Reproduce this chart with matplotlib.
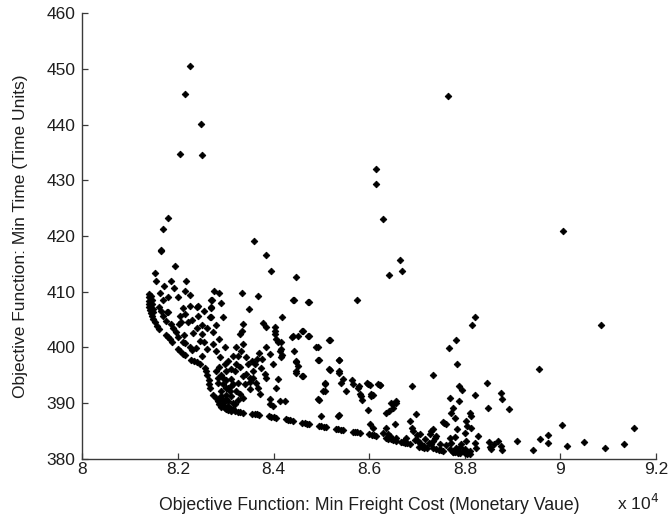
import matplotlib
matplotlib.use("Agg")
import matplotlib.pyplot as plt
from matplotlib.ticker import FuncFormatter

plt.rcParams['font.family'] = ['Liberation Sans', 'DejaVu Sans']

# Pareto front (lower-left boundary of the solution set)
front_cost = [
    # blob at the cheapest end
    81400, 81400, 81400, 81400, 81400, 81420, 81440, 81460, 81470, 81440, 81450, 81460, 81470, 81480,
    # curved upper part
    81510, 81560, 81610,
    81740, 81790, 81840, 81880,
    82000, 82050, 82100, 82150,
    82280, 82340, 82400, 82450,
    82560, 82590, 82610,
    82640, 82650, 82670,
    82740, 82790, 82840,
    82930, 82980, 83040, 83100,
    # flat lower part
    83200, 83250, 83300, 83350,
    83550, 83600, 83650, 83700,
    83900, 83950, 84000, 84050,
    84250, 84300, 84350, 84400,
    84600, 84650, 84700, 84750,
    84950, 85000, 85050, 85100,
    85300, 85350, 85400, 85450,
    85650, 85700, 85750, 85800,
    86000, 86050, 86100, 86150,
    86350, 86400, 86450, 86500,
    86700, 86750, 86800, 86850,
    87050, 87100, 87150, 87200,
    87400, 87450, 87500, 87550,
    87750, 87800, 87850, 87900,
    88000, 88050, 88100,
]
front_time = [
    409.6, 409.0, 408.4, 407.8, 407.2, 406.7, 406.2, 405.7, 405.2, 409.2, 408.5, 407.8, 407.0, 406.4,
    404.6, 403.9, 403.4,
    402.3, 401.9, 401.5, 401.0,
    399.8, 399.4, 398.9, 398.6,
    397.8, 397.6, 397.3, 397.1,
    396.3, 395.7, 395.1,
    394.2, 393.5, 392.8,
    391.5, 390.9, 390.4,
    389.6, 389.1, 388.8, 388.6,
    388.5, 388.4, 388.4, 388.3,
    388.1, 388.0, 388.0, 387.9,
    387.6, 387.5, 387.5, 387.4,
    387.1, 387.0, 386.9, 386.8,
    386.5, 386.4, 386.3, 386.3,
    385.9, 385.9, 385.8, 385.7,
    385.4, 385.3, 385.2, 385.2,
    384.9, 384.8, 384.8, 384.7,
    384.4, 384.3, 384.2, 384.1,
    383.7, 383.6, 383.5, 383.4,
    383.0, 382.9, 382.8, 382.6,
    382.2, 382.1, 382.0, 381.9,
    381.7, 381.6, 381.5, 381.4,
    381.3, 381.2, 381.2, 381.1,
    381.0, 381.0, 380.9,
]

# Remaining (dominated) solutions
other_cost = [
    82255, 82140, 82480, 82030, 82510, 86150, 86150, 81790, 81680, 83580, 81640, 87640, 86280, 90050,
    86640, 86420, 86690, 88220, 88160, 90850, 87810, 87660, 87830, 89550, 87330, 86220, 86010, 86890,
    87880, 87950, 88470, 88750, 88780, 86070, 88220, 87690, 87880, 86460, 86570, 86500, 86360, 87760,
    88490, 88920, 86970, 86850, 87710, 87800, 88110, 87560, 90030, 91530, 89100, 89420, 89570, 89750,
    89750, 90130, 90490, 90940, 91330,
    88500, 88520, 88550, 88700, 88750, 88780, 88620,
    88125, 87545, 87600, 88033, 88047, 88138, 88277, 88000, 87335, 87266, 87405, 86917, 87056, 87021,
    87161, 87335, 87335, 87476, 87685, 87720, 87685, 87825, 87930, 88034, 87964, 88104, 88050, 86777,
    86700, 88208, 88230, 87750, 87850, 87900, 88000, 87600, 87250, 87150, 86950,
    86078, 86288, 86429, 86568, 86672, 86900, 87056, 86990, 87300, 87370, 87300, 87800, 87830,
    84460, 84404, 84726, 85744, 84181, 83776, 83846, 84021, 84404, 84600, 84726, 85157, 83357, 83329,
    83287, 83357, 83322, 83217, 84090, 84125, 84160, 83846, 83916, 83985, 84893, 84928, 84473, 84508,
    84473, 84600, 85157, 85367, 85367, 85451, 85660, 85765, 85835, 85974, 86044, 85974, 86184, 85346,
    84998, 84934, 85067, 85067, 84125, 84230, 84056, 84090, 83916, 83985, 83706, 83671, 83636, 83566,
    83497, 83427, 83566, 83741, 83811, 83427, 83462, 83217, 83183, 82974, 83008, 82834, 82974, 82785,
    82729, 82729, 82450, 82380, 82310, 82115, 82067, 82017, 82240, 82393, 82415, 81787, 81682, 82693,
    82693, 82693, 82869, 83008, 83008, 83078, 83148, 83252, 83218, 83287, 83357, 83148, 83043, 82939,
    82869, 82904, 82834, 82799, 82939, 83113, 83113, 83357, 83846, 83916, 83601,
    81648, 81926, 81508, 81535, 82171, 81905, 82150, 81612, 81787, 81682, 82749, 82862, 83336, 83671,
    83838, 83943, 82707, 82694, 83476, 82415, 82659, 82100, 82136, 82031, 81591, 81648, 81773,
    84418, 84733, 84613, 84502, 84391, 84733, 85172, 84928, 84418, 84474, 84474, 84613, 84949, 85367,
    85172, 85367, 85067, 85032, 84949, 85417, 85507, 85647, 85786, 85800, 85857, 85953, 86219, 86044,
    85367, 86567, 86497, 86414, 86533, 86359, 86393, 86567, 86010,
    84020, 84030, 84040, 84160, 84160, 84180,
    82900, 82950, 83000, 83050, 83100, 83000, 82850, 82900, 83050, 83100, 83200, 83150, 83250, 83100,
    82950, 83000, 82900, 82850, 83050, 83150, 83250, 83300, 83400, 83500, 83500, 83550, 83650, 83700,
    83750,
    81900, 81950, 82000, 82100, 82150, 82250, 82300, 82400, 82500, 82550, 82600, 82500, 81850, 81750,
    82200, 82300, 82500, 82600, 82800, 82850, 82550, 82900, 82950, 82250, 82000, 81850, 81700,
]
other_time = [
    450.6, 445.5, 440.2, 434.8, 434.5, 432.0, 429.3, 423.3, 421.2, 419.2, 417.6, 445.2, 423.0, 420.9,
    415.8, 413.1, 413.7, 405.4, 404.0, 404.0, 401.4, 399.9, 397.0, 396.1, 395.1, 393.3, 393.3, 393.0,
    393.0, 392.4, 393.6, 391.9, 390.7, 391.4, 391.4, 390.9, 390.3, 390.1, 390.1, 389.1, 388.2, 389.1,
    389.1, 389.0, 388.0, 386.8, 388.3, 387.3, 388.3, 386.5, 386.1, 385.6, 383.2, 381.6, 383.5, 384.3,
    382.8, 382.3, 383.1, 381.9, 382.6,
    383.0, 382.2, 381.7, 383.2, 382.3, 381.5, 382.6,
    387.6, 386.7, 386.2, 386.8, 385.9, 385.6, 384.1, 384.7, 385.3, 384.4, 384.1, 385.0, 384.4, 383.2,
    383.5, 383.2, 382.0, 382.6, 383.8, 382.9, 381.7, 382.0, 382.6, 383.2, 381.4, 381.4, 380.8, 383.8,
    383.0, 382.9, 382.0, 381.2, 381.0, 382.2, 381.8, 382.4, 382.8, 382.3, 383.3,
    385.6, 384.6, 384.1, 383.8, 383.1, 385.6, 382.9, 384.2, 385.0, 383.8, 382.6, 384.0, 385.4,
    412.6, 408.6, 408.1, 408.6, 405.4, 404.4, 403.6, 403.0, 402.0, 402.9, 402.1, 401.4, 404.2, 403.0,
    402.4, 400.6, 399.4, 400.0, 401.0, 399.4, 398.2, 400.0, 398.8, 397.0, 400.0, 397.8, 397.6, 396.7,
    395.8, 394.8, 396.1, 397.8, 395.7, 394.3, 393.4, 392.8, 391.3, 393.4, 391.2, 388.8, 393.4, 387.7,
    387.6, 390.7, 393.4, 392.2, 390.4, 390.4, 392.8, 394.3, 389.8, 389.5, 391.7, 392.8, 393.7, 394.6,
    394.6, 395.2, 395.8, 396.4, 395.2, 398.2, 397.0, 397.0, 395.8, 397.0, 395.8, 394.6, 400.0, 399.4,
    400.6, 402.7, 401.2, 399.9, 402.6, 402.3, 404.5, 404.2, 407.5, 407.2, 405.6, 406.3, 405.7, 408.6,
    407.1, 405.4, 398.2, 392.8, 390.7, 392.2, 393.4, 393.7, 392.2, 391.6, 391.0, 390.1, 389.5, 390.1,
    391.0, 392.2, 393.7, 395.8, 394.6, 394.3, 396.1, 394.9, 394.5, 390.7, 397.0,
    417.3, 414.7, 413.4, 411.9, 411.9, 410.7, 410.2, 409.8, 409.0, 408.6, 410.2, 409.8, 409.8, 409.3,
    416.7, 413.8, 408.6, 407.2, 406.9, 407.4, 405.4, 407.1, 406.0, 405.7, 407.2, 406.6, 406.3,
    408.6, 408.1, 402.9, 402.1, 401.9, 402.0, 401.4, 400.0, 399.3, 397.3, 395.5, 394.8, 397.8, 397.8,
    396.0, 395.5, 393.6, 392.1, 390.6, 393.6, 392.2, 394.2, 393.1, 391.6, 390.6, 393.6, 393.3, 391.6,
    387.9, 390.3, 389.8, 388.6, 386.2, 385.5, 384.4, 383.2, 386.2,
    403.6, 402.5, 401.5, 401.0, 399.8, 398.6,
    389.3, 390.5, 391.5, 390.3, 389.0, 389.0, 389.8, 391.3, 392.8, 391.3, 389.8, 388.9, 390.6, 393.0,
    393.5, 394.2, 395.0, 396.5, 397.5, 398.5, 398.5, 396.5, 393.5, 392.5, 393.8, 397.5, 398.0, 399.0,
    398.0,
    403.5, 402.8, 401.8, 401.0, 400.8, 400.0, 399.5, 403.5, 402.5, 401.0, 399.8, 398.5, 404.2, 404.8,
    404.5, 405.0, 404.0, 403.5, 404.0, 401.5, 406.5, 408.0, 405.5, 409.5, 409.0, 412.0, 411.0,
]

x_ticks = [80000, 82000, 84000, 86000, 88000, 90000, 92000]
y_ticks = [380, 390, 400, 410, 420, 430, 440, 450, 460]

text_color = '#1e1e1e'
axis_color = '#3a3a3a'

fig = plt.figure(figsize=(6.68, 5.19), dpi=100)
ax = fig.add_axes([0.1235, 0.116, 0.8585, 0.858])

marker_style = dict(marker='D', linestyle='none', markersize=3.4,
                    markerfacecolor='black', markeredgecolor='black', markeredgewidth=0.6)
ax.plot(other_cost, other_time, **marker_style)
ax.plot(front_cost, front_time, **marker_style)

ax.set_xlim(80000, 92000)
ax.set_ylim(380, 460)
ax.set_xticks(x_ticks)
ax.set_yticks(y_ticks)
ax.xaxis.set_major_formatter(FuncFormatter(lambda v, p: f"{v / 1e4:g}"))

for side in ('top', 'right'):
    ax.spines[side].set_visible(False)
for side in ('left', 'bottom'):
    ax.spines[side].set_color(axis_color)
    ax.spines[side].set_linewidth(1.0)

ax.tick_params(axis='both', direction='in', length=4.5, width=0.9, color=axis_color,
               labelsize=12.5, labelcolor=text_color)
ax.tick_params(axis='x', pad=2)
ax.tick_params(axis='y', pad=5)

ax.set_xlabel('Objective Function: Min Freight Cost (Monetary Vaue)', fontsize=12.7,
              color=text_color, labelpad=15)
ax.set_ylabel('Objective Function: Min Time (Time Units)', fontsize=12.5,
              color=text_color, labelpad=13)
fig.text(0.923, 0.012, r'x 10$^4$', fontsize=12.5, color=text_color, ha='left', va='bottom')

fig.savefig('out.png', dpi=100)
